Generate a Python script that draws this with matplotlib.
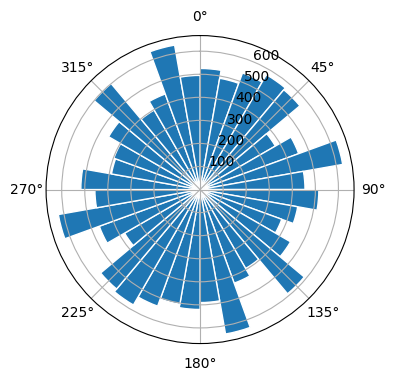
import numpy as np
import matplotlib
matplotlib.use('Agg')
import matplotlib.pyplot as plt

# bin start angles in degrees (10 degree bins, clockwise from north)
angles_deg = np.arange(0, 360, 10)
counts = [525, 490, 538, 575, 565, 377, 455, 628, 455,
          515, 430, 377, 453, 590, 395, 432, 636, 490,
          520, 505, 538, 578, 563, 378, 465, 624, 456,
          517, 390, 398, 458, 600, 398, 441, 636, 495]

fig = plt.figure(figsize=(4, 4), dpi=100)
ax = fig.add_subplot(111, projection='polar')
ax.set_theta_zero_location('N')
ax.set_theta_direction(-1)

theta = np.deg2rad(angles_deg)
width = np.deg2rad(10)
ax.bar(theta, counts, width=width, align='edge', color='#1f77b4', edgecolor='white', linewidth=1)

fig.savefig('out.png', dpi=100, bbox_inches='tight')
